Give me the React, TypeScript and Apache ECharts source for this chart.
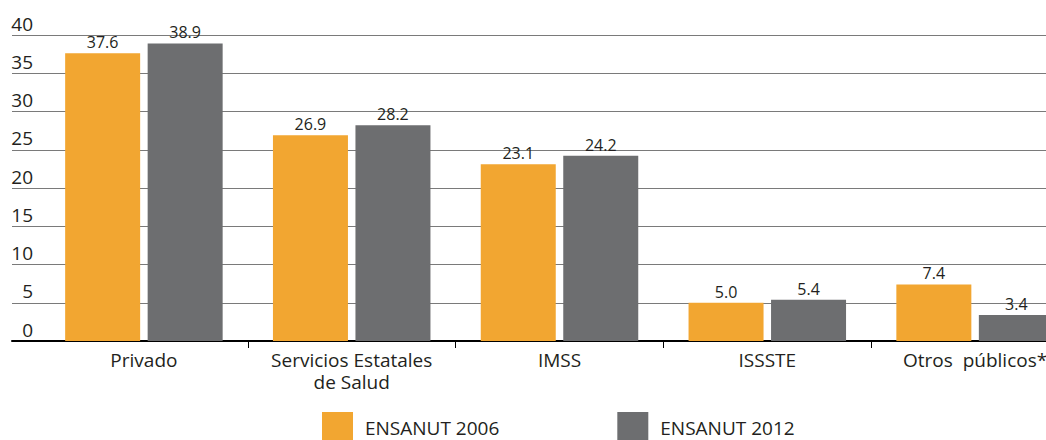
import React, { useEffect, useRef } from "react";
import * as echarts from "echarts";

const categories = ["Privado", "Servicios Estatales\nde Salud", "IMSS", "ISSSTE", "Otros  públicos*"];
const series2006 = [37.6, 26.9, 23.1, 5.0, 7.4];
const series2012 = [38.9, 28.2, 24.2, 5.4, 3.4];
const seriesNames = ["ENSANUT 2006", "ENSANUT 2012"];
const yTicks = { min: 0, max: 40, interval: 5 };

const FONT = "'Open Sans', 'Noto Sans', sans-serif";
const TEXT = "#231F20";
const ORANGE = "#F2A631";
const GREY = "#6D6E70";

export default function App() {
  const ref = useRef<HTMLDivElement>(null);
  useEffect(() => {
    if (!ref.current) return;
    const chart = echarts.init(ref.current, undefined, { renderer: "svg" });
    chart.setOption({
      animation: false,
      textStyle: { fontFamily: FONT },
      grid: [
        { left: 12, right: 0, top: 35, bottom: 99, outerBoundsMode: "none" },
        { left: 40, top: 35, width: 1039, height: 306, outerBoundsMode: "none" },
      ],
      legend: {
        top: 412,
        left: 322,
        padding: 0,
        itemWidth: 31,
        itemHeight: 31,
        itemGap: 118,
        icon: "rect",
        textStyle: { fontSize: 19, lineHeight: 18, color: TEXT, fontFamily: FONT, padding: [0, 0, 0, 7] },
        data: seriesNames,
      },
      xAxis: [
        {
          type: "value",
          gridIndex: 0,
          min: 0,
          max: 1,
          axisLine: { show: true, onZero: false, lineStyle: { color: "#000", width: 2 } },
          axisTick: { show: false },
          axisLabel: { show: false },
          splitLine: { show: false },
        },
        {
          type: "category",
          gridIndex: 1,
          data: categories,
          axisLine: { show: false },
          axisTick: {
            show: true,
            length: 7,
            interval: (i: number) => i > 0,
            lineStyle: { color: "#000", width: 1 },
          },
          axisLabel: {
            color: TEXT,
            fontSize: 19,
            lineHeight: 22,
            margin: 8,
            fontFamily: FONT,
            interval: 0,
          },
        },
      ],
      yAxis: [
        {
          type: "value",
          gridIndex: 0,
          min: yTicks.min,
          max: yTicks.max,
          interval: yTicks.interval,
          axisLine: { show: false },
          axisTick: { show: false },
          axisLabel: {
            inside: true,
            align: "right",
            verticalAlign: "bottom",
            margin: 21,
            padding: [0, 0, 2, 0],
            color: TEXT,
            fontSize: 19,
            fontFamily: FONT,
          },
          splitLine: { show: true, lineStyle: { color: "#7A7A7A", width: 1 } },
        },
        {
          type: "value",
          gridIndex: 1,
          min: yTicks.min,
          max: yTicks.max,
          interval: yTicks.interval,
          show: false,
          splitLine: { show: false },
        },
      ],
      series: [
        {
          name: seriesNames[0],
          type: "bar",
          xAxisIndex: 1,
          yAxisIndex: 1,
          data: series2006,
          barWidth: 75,
          barGap: "10%",
          itemStyle: { color: ORANGE },
          label: {
            show: true,
            position: "top",
            distance: 3,
            color: TEXT,
            fontSize: 16,
            fontFamily: FONT,
            formatter: (p: any) => Number(p.value).toFixed(1),
          },
        },
        {
          name: seriesNames[1],
          type: "bar",
          xAxisIndex: 1,
          yAxisIndex: 1,
          data: series2012,
          barWidth: 75,
          barGap: "10%",
          itemStyle: { color: GREY },
          label: {
            show: true,
            position: "top",
            distance: 3,
            color: TEXT,
            fontSize: 16,
            fontFamily: FONT,
            formatter: (p: any) => Number(p.value).toFixed(1),
          },
        },
      ],
    });
    return () => chart.dispose();
  }, []);
  return (
    <div
      ref={ref}
      style={{ position: "absolute", left: 0, top: 0, width: 1046, height: 440, background: "#fff" }}
    />
  );
}
